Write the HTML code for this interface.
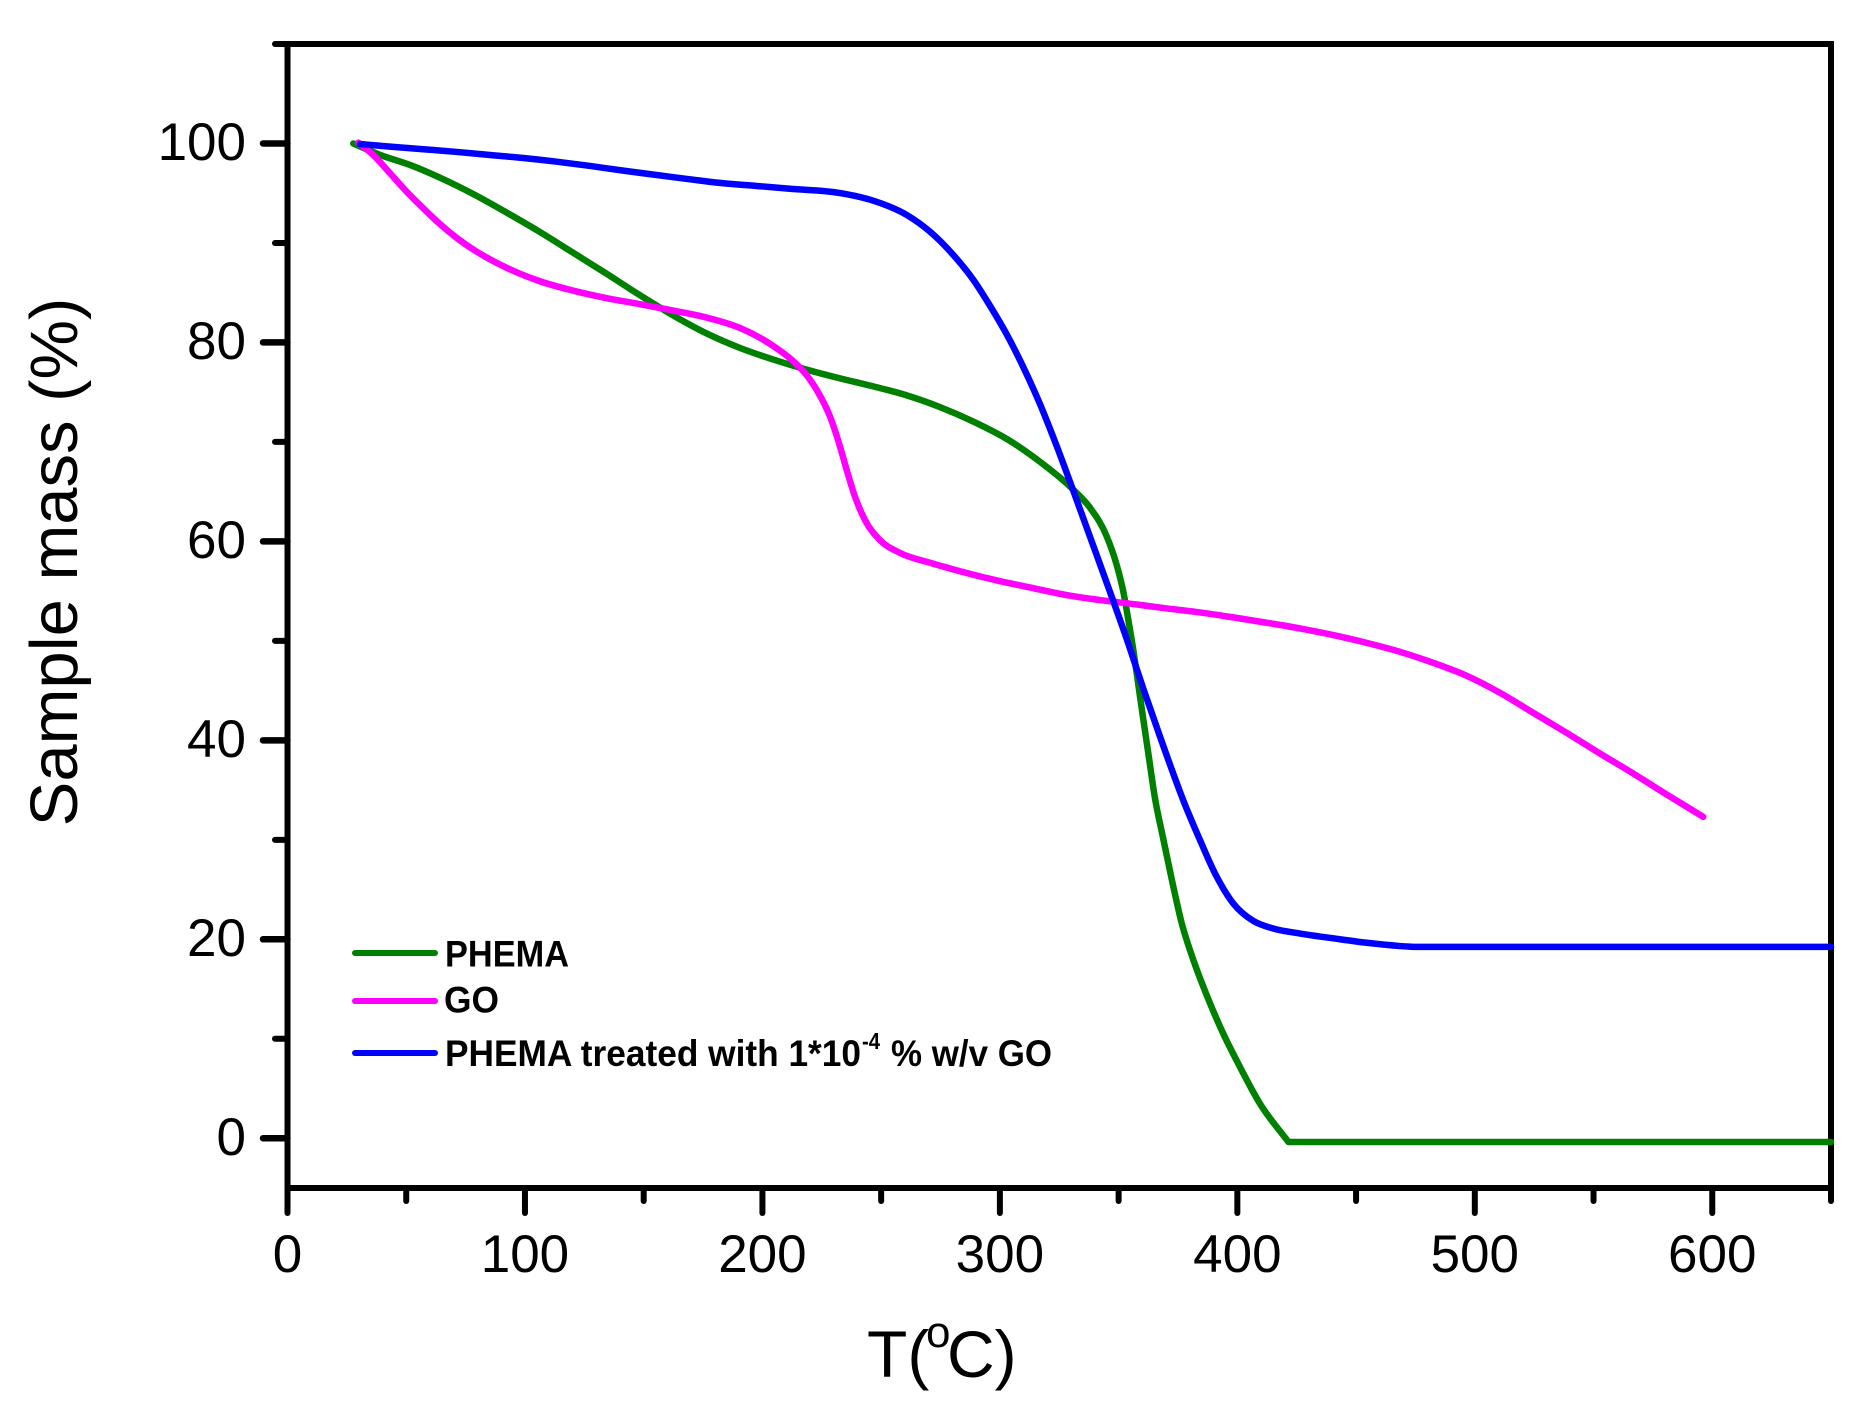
<!DOCTYPE html>
<html lang="en">
<head>
<meta charset="utf-8">
<title>Sample mass vs temperature</title>
<style>
html,body{margin:0;padding:0;background:#fff;}
svg{display:block;}
text{font-family:"Liberation Sans",Arial,sans-serif;fill:#000;}
</style>
</head>
<body>
<svg id="chart" xmlns="http://www.w3.org/2000/svg" width="1874" height="1405" viewBox="0 0 1874 1405">
  <rect x="0" y="0" width="1874" height="1405" fill="#fff"/>
  <g id="axes"></g>
  <g id="series"></g>

  <text transform="translate(77,562) rotate(-90)" text-anchor="middle" font-size="67">Sample mass (%)</text>
  <g>
    <text x="867" y="1377" font-size="66">T(</text>
    <text x="926" y="1347" font-size="44">o</text>
    <text x="947" y="1377" font-size="66">C)</text>
  </g>

  <g>
    <line x1="355" y1="953" x2="435" y2="953" stroke="#008000" stroke-width="6" stroke-linecap="round"/>
    <text x="445" y="966.7" font-size="37.5" font-weight="bold" textLength="124" lengthAdjust="spacingAndGlyphs">PHEMA</text>
    <line x1="355" y1="1001" x2="435" y2="1001" stroke="#ff00ff" stroke-width="6" stroke-linecap="round"/>
    <text x="444" y="1012.7" font-size="37.5" font-weight="bold" textLength="55" lengthAdjust="spacingAndGlyphs">GO</text>
    <line x1="355" y1="1053" x2="435" y2="1053" stroke="#0000ff" stroke-width="6" stroke-linecap="round"/>
    <text x="445" y="1066" font-size="37.5" font-weight="bold" textLength="416" lengthAdjust="spacingAndGlyphs">PHEMA treated with 1*10</text>
    <text x="862" y="1049" font-size="23" font-weight="bold" textLength="18" lengthAdjust="spacingAndGlyphs">-4</text>
    <text x="891" y="1066" font-size="37.5" font-weight="bold" textLength="161" lengthAdjust="spacingAndGlyphs">% w/v GO</text>
  </g>
</svg>
<script>
var xMajorTicks = [0, 100, 200, 300, 400, 500, 600];
var xMinorTicks = [50, 150, 250, 350, 450, 550, 650];
var yMajorTicks = [0, 20, 40, 60, 80, 100];
var yMinorTicks = [10, 30, 50, 70, 90, 110];
var xDomain = [0, 650];
var yDomain = [-5, 110];

var phemaTemp = [27.7,39,51.6,64.2,78.2,92.3,106.3,120.4,134.4,148.4,162.5,176.5,190.6,204.6,218.6,232.7,246.7,260.8,274.8,288.8,302.9,316.9,330.9,337.9,345,349.2,352,354.1,356.2,358.3,360.4,362.5,365.3,368.8,372.4,376.6,381.5,387.1,393.4,401.1,409.5,421.5,650];
var phemaMass = [100,98.85,97.84,96.56,94.92,93.05,91.1,89,86.9,84.75,82.7,80.9,79.44,78.28,77.27,76.39,75.58,74.68,73.5,72.05,70.3,68,65.2,63.4,60.5,57.62,54.93,52.09,49.07,45.6,42.1,38.7,34.2,30.1,26,21.59,17.9,14.38,10.86,7.17,3.49,-0.37,-0.37];

var goTemp = [29.8,36.1,43.2,50.2,57.2,64.2,71.3,78.2,92.3,106.3,120.4,134.4,148.4,162.5,176.5,190.6,204.6,211.6,218.6,222.9,228.5,232.7,235.5,239,243.2,249.5,257.9,270.6,283.2,300.1,314.1,328.1,342.2,356.2,370.3,384.3,398.3,412.4,426.4,440.4,454.5,468.5,482.5,496.6,510.6,524.6,538.7,552.7,566.7,580.8,596.2];
var goMass = [100.08,98.84,97,95.15,93.48,91.9,90.5,89.35,87.5,86.15,85.2,84.45,83.85,83.2,82.5,81.45,79.64,78.4,76.72,75.21,72.53,69.51,67.17,64.48,62.14,60.13,58.85,57.85,57,56,55.3,54.6,54.1,53.7,53.26,52.86,52.36,51.82,51.25,50.58,49.8,48.9,47.79,46.49,44.78,42.77,40.75,38.68,36.67,34.56,32.31];

var treatedTemp = [30.5,43.2,57.2,71.3,85.3,99.3,113.4,127.4,141.4,155.5,169.5,183.5,197.6,211.6,232.7,246.7,260.8,270.6,280.4,288.8,295.8,302.9,309.9,316.9,323.9,330.9,337.9,346.4,353.4,360.4,367.4,370.9,377.2,384.3,390.6,398.3,406.7,415.1,426.4,440.4,454.5,468.5,474.1,650];
var treatedMass = [99.95,99.68,99.42,99.15,98.84,98.54,98.17,97.74,97.27,96.83,96.4,96,95.73,95.45,95.02,94.25,92.81,91.13,88.79,86.3,83.7,80.8,77.5,73.8,69.6,65.1,60.5,54.9,50.2,45.2,40.4,38.05,33.99,29.96,26.62,23.6,21.85,21.09,20.58,20.1,19.65,19.32,19.24,19.24];

var SVGNS = 'http://www.w3.org/2000/svg';
var PLOT = {left: 287.5, right: 1831, top: 44, bottom: 1188};
function xScale(v) {
  return PLOT.left + (v - xDomain[0]) / (xDomain[1] - xDomain[0]) * (PLOT.right - PLOT.left);
}
function yScale(v) {
  return PLOT.bottom - (v - yDomain[0]) / (yDomain[1] - yDomain[0]) * (PLOT.bottom - PLOT.top);
}
function makeLine(parent, x1, y1, x2, y2, w, cap) {
  var l = document.createElementNS(SVGNS, 'line');
  l.setAttribute('x1', x1);
  l.setAttribute('y1', y1);
  l.setAttribute('x2', x2);
  l.setAttribute('y2', y2);
  l.setAttribute('stroke', '#000');
  l.setAttribute('stroke-width', w);
  l.setAttribute('stroke-linecap', cap || 'butt');
  parent.appendChild(l);
  return l;
}
function monotonePath(xs, ys) {
  var n = xs.length;
  var tail = null;
  if (n > 2 && ys[n - 1] === ys[n - 2]) {
    tail = [xs[n - 1], ys[n - 1]];
    n = n - 1;
  }
  var s = [], t = [], i;
  for (i = 0; i < n - 1; i++) s.push((ys[i + 1] - ys[i]) / (xs[i + 1] - xs[i]));
  t[0] = s[0];
  t[n - 1] = s[n - 2];
  for (i = 1; i < n - 1; i++) {
    var h0 = xs[i] - xs[i - 1], h1 = xs[i + 1] - xs[i];
    var p = (s[i - 1] * h1 + s[i] * h0) / (h0 + h1);
    if (s[i - 1] * s[i] <= 0) {
      t[i] = 0;
    } else {
      var limit = 3 * Math.min(Math.abs(s[i - 1]), Math.abs(s[i]));
      t[i] = Math.abs(p) > limit ? (p < 0 ? -limit : limit) : p;
    }
  }
  var d = 'M' + xs[0].toFixed(2) + ' ' + ys[0].toFixed(2);
  for (i = 0; i < n - 1; i++) {
    var h = (xs[i + 1] - xs[i]) / 3;
    d += 'C' + (xs[i] + h).toFixed(2) + ' ' + (ys[i] + t[i] * h).toFixed(2) + ' ' +
         (xs[i + 1] - h).toFixed(2) + ' ' + (ys[i + 1] - t[i + 1] * h).toFixed(2) + ' ' +
         xs[i + 1].toFixed(2) + ' ' + ys[i + 1].toFixed(2);
  }
  if (tail) d += 'L' + tail[0].toFixed(2) + ' ' + tail[1].toFixed(2);
  return d;
}
function drawSeries(temps, masses, color, name) {
  var p = document.createElementNS(SVGNS, 'path');
  
  
  p.setAttribute('d', monotonePath(temps.map(xScale), masses.map(yScale)));
  p.setAttribute('fill', 'none');
  p.setAttribute('stroke', color);
  p.setAttribute('stroke-width', '6.5');
  p.setAttribute('stroke-linejoin', 'round');
  p.setAttribute('stroke-linecap', 'round');
  document.getElementById('series').appendChild(p);
}

var axes = document.getElementById('axes');
var frame = [
  ['left-axis-line', PLOT.left, PLOT.top - 3, PLOT.left, PLOT.bottom + 3],
  ['right-axis-line', PLOT.right, PLOT.top - 3, PLOT.right, PLOT.bottom + 3],
  ['top-axis-line', PLOT.left, PLOT.top, PLOT.right + 3, PLOT.top],
  ['bottom-axis-line', PLOT.left, PLOT.bottom, PLOT.right + 3, PLOT.bottom]
];
frame.forEach(function (f) {
  var l = makeLine(axes, f[1], f[2], f[3], f[4], 6);
  
  
});

xMajorTicks.forEach(function (v) {
  var x = xScale(v);
  var l = makeLine(axes, x, PLOT.bottom, x, 1213, 6, 'round');
  
  
  var t = document.createElementNS(SVGNS, 'text');
  
  
  t.setAttribute('x', x);
  t.setAttribute('y', 1272);
  t.setAttribute('text-anchor', 'middle');
  t.setAttribute('font-size', '53');
  t.textContent = v;
  axes.appendChild(t);
});
xMinorTicks.forEach(function (v) {
  var x = xScale(v);
  var l = makeLine(axes, x, PLOT.bottom, x, 1201, 6, 'round');
  
  
});
yMajorTicks.forEach(function (v) {
  var y = yScale(v);
  var l = makeLine(axes, PLOT.left, y, 263, y, 6.5, 'round');
  
  
  var t = document.createElementNS(SVGNS, 'text');
  
  
  t.setAttribute('x', 246);
  t.setAttribute('y', y + 16.5);
  t.setAttribute('text-anchor', 'end');
  t.setAttribute('font-size', '53');
  t.textContent = v;
  axes.appendChild(t);
});
yMinorTicks.forEach(function (v) {
  var y = yScale(v);
  var l = makeLine(axes, PLOT.left, y, 275, y, 6, 'round');
  
  
});

drawSeries(phemaTemp, phemaMass, '#008000', 'series-phema');
drawSeries(goTemp, goMass, '#ff00ff', 'series-go');
drawSeries(treatedTemp, treatedMass, '#0000ff', 'series-phema-treated-go');
</script>
</body>
</html>
